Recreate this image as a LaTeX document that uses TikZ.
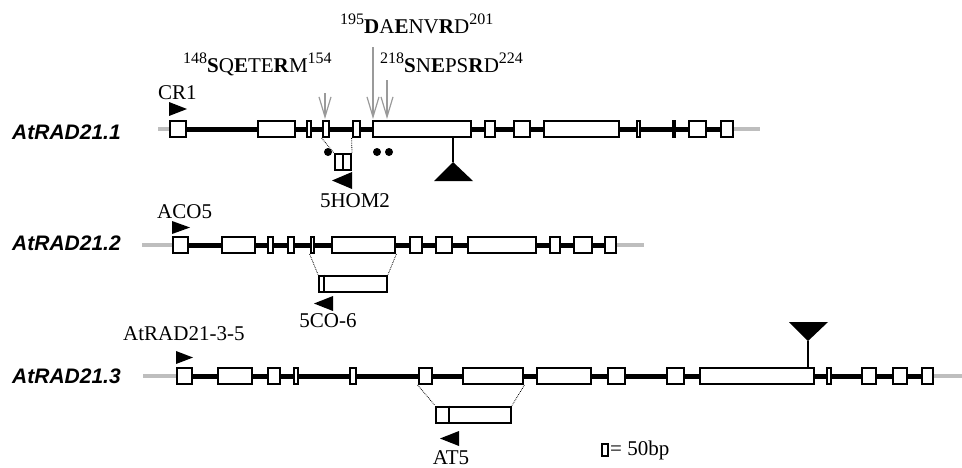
\documentclass[tikz,border=0pt]{standalone}
\usepackage{fontspec}
\setmainfont{Liberation Serif}
\newfontfamily\genefont{Liberation Sans}
\usepackage{tikz}
\usetikzlibrary{arrows.meta,backgrounds}
\definecolor{UtrGray}{HTML}{BEBEBE}
\definecolor{SiteGray}{HTML}{9A9A9A}
\newcommand{\aapos}[1]{\raisebox{0.42em}{\fontsize{16}{18}\selectfont #1}}

\begin{document}
\begin{tikzpicture}[x=1pt, y=-1pt,
    exon/.style={rectangle, draw=black, line width=2pt, fill=white, inner sep=0pt, minimum height=16pt},
    intron/.style={line width=5pt, black},
    utr/.style={line width=4pt, UtrGray},
    gene/.style={font=\fontsize{21}{24}\genefont\bfseries\itshape, anchor=base west, inner sep=0pt},
    txt/.style={font=\fontsize{21}{24}\selectfont, inner sep=0pt},
    site/.style={SiteGray, line width=1.2pt, shorten >=1pt, -{Straight Barb[length=20pt, width=12pt]}},
    zoomline/.style={densely dotted, line width=0.8pt}
]
    \useasboundingbox (0,0) rectangle (962,467);

    % AtRAD21.1
    \node[gene] (g1) at (12,139) {AtRAD21.1};
    \foreach \a/\b [count=\i] in {169/187, 257/296, 306/312, 322/330, 352/361, 372/472, 484/496, 513/531, 543/620, 636/641, 672/676, 688/707, 720/734}
        \node[exon, minimum width={(\b-\a-1.2)*1pt}] (r1e\i) at ({(\a+\b)/2},129) {};
    \coordinate (r1s) at (158,129);
    \coordinate (r1t) at (760,129);
    \fill (169,102) -- ++(18,7) -- ++(-18,7) -- cycle;
    \node[txt, anchor=base west] (cr1) at (158,99) {CR1};

    \node[txt, anchor=base west] (s1) at (183,72) {\aapos{148}\textbf{S}Q\textbf{E}TE\textbf{R}M\aapos{154}};
    \node[txt, anchor=base west] (s2) at (340,33) {\aapos{195}\textbf{D}A\textbf{E}NV\textbf{R}D\aapos{201}};
    \node[txt, anchor=base west] (s3) at (380,72) {\aapos{218}\textbf{S}N\textbf{E}PS\textbf{R}D\aapos{224}};
    \coordinate (a148) at (325,93);
    \coordinate (a195) at (373,47);
    \coordinate (a218) at (387,80);
    \draw[site] (a148) -- (a148 |- r1e4.north);
    \draw[site] (a195) -- (a195 |- r1e6.north);
    \draw[site] (a218) -- (a218 |- r1e6.north);

    \node[exon, minimum width=16pt] (hom) at (343,162) {};
    \draw[line width=2pt] (hom.north) -- (hom.south);
    \draw[zoomline] (r1e4.south west) -- (hom.north west);
    \draw[zoomline] (r1e5.south west) -- (hom.north east);
    \fill (328,152) circle[radius=4pt];
    \fill (377,152) circle[radius=4pt];
    \fill (389,152) circle[radius=4pt];
    \fill (352,172) -- (332,180.5) -- (352,189) -- cycle;
    \node[txt, anchor=base] (p1) at (355,207) {5HOM2};

    \coordinate (ins1) at (453,162);
    \draw[line width=1.2pt] (ins1 |- r1e6.south) -- (ins1);
    \fill (ins1) -- (434,181) -- (473,181) -- cycle;

    % AtRAD21.2
    \node[gene] (g2) at (12,250) {AtRAD21.2};
    \foreach \a/\b [count=\i] in {172/189, 221/256, 267/274, 287/295, 310/315, 331/396, 409/423, 435/453, 467/537, 549/561, 573/593, 604/617}
        \node[exon, minimum width={(\b-\a-1.2)*1pt}] (r2e\i) at ({(\a+\b)/2},245) {};
    \coordinate (r2s) at (142,245);
    \coordinate (r2t) at (644,245);
    \fill (172,221) -- ++(18,6.5) -- ++(-18,6.5) -- cycle;
    \node[txt, anchor=base west] (aco) at (157,218) {ACO5};

    \node[exon, minimum width=68pt] (co) at (353,283.5) {};
    \draw[line width=2pt] ([xshift=6pt]co.north west) -- ([xshift=6pt]co.south west);
    \draw[zoomline] (r2e5.south west) -- (co.north west);
    \draw[zoomline] (r2e6.south east) -- (co.north east);
    \fill (333,296) -- (314,303.5) -- (333,311) -- cycle;
    \node[txt, anchor=base] (p2) at (328,327) {5CO-6};

    % AtRAD21.3
    \node[gene] (g3) at (12,383) {AtRAD21.3};
    \foreach \a/\b [count=\i] in {176/193, 217/253, 267/281, 293/299, 349/357, 418/433, 462/524, 536/592, 607/626, 666/685, 699/815, 826/832, 861/877, 892/908, 921/934}
        \node[exon, minimum width={(\b-\a-1.2)*1pt}] (r3e\i) at ({(\a+\b)/2},376) {};
    \coordinate (r3s) at (143,376);
    \coordinate (r3t) at (962,376);
    \fill (176,351) -- ++(17,6.5) -- ++(-17,6.5) -- cycle;
    \node[txt, anchor=base west] (at35) at (123,340) {AtRAD21-3-5};

    \node[exon, minimum width=75pt] (at) at (473.5,414.5) {};
    \draw[line width=2pt] ([xshift=14pt]at.north west) -- ([xshift=14pt]at.south west);
    \draw[zoomline] (r3e6.south west) -- (at.north west);
    \draw[zoomline] (r3e7.south east) -- (at.north east);
    \fill (459,431) -- (440,438.5) -- (459,446) -- cycle;
    \node[txt, anchor=base] (p3) at (451,464) {AT5};

    \coordinate (ins3) at (808,341);
    \draw[line width=1.2pt] (ins3 |- r3e11.north) -- (ins3);
    \fill (ins3) -- (789,322) -- (828,322) -- cycle;

    % scale
    \node[exon, minimum width=6pt, minimum height=12pt] (bar) at (605,450) {};
    \node[txt, anchor=base west] (barlbl) at (610,455) {= 50bp};

    \begin{scope}[on background layer]
        \draw[utr] (r1s) -- (r1e1.center);
        \draw[utr] (r1e13.center) -- (r1t);
        \draw[intron] (r1e1.center) -- (r1e13.center);
        \draw[utr] (r2s) -- (r2e1.center);
        \draw[utr] (r2e12.center) -- (r2t);
        \draw[intron] (r2e1.center) -- (r2e12.center);
        \draw[utr] (r3s) -- (r3e1.center);
        \draw[utr] (r3e15.center) -- (r3t);
        \draw[intron] (r3e1.center) -- (r3e15.center);
    \end{scope}
\end{tikzpicture}
\end{document}
